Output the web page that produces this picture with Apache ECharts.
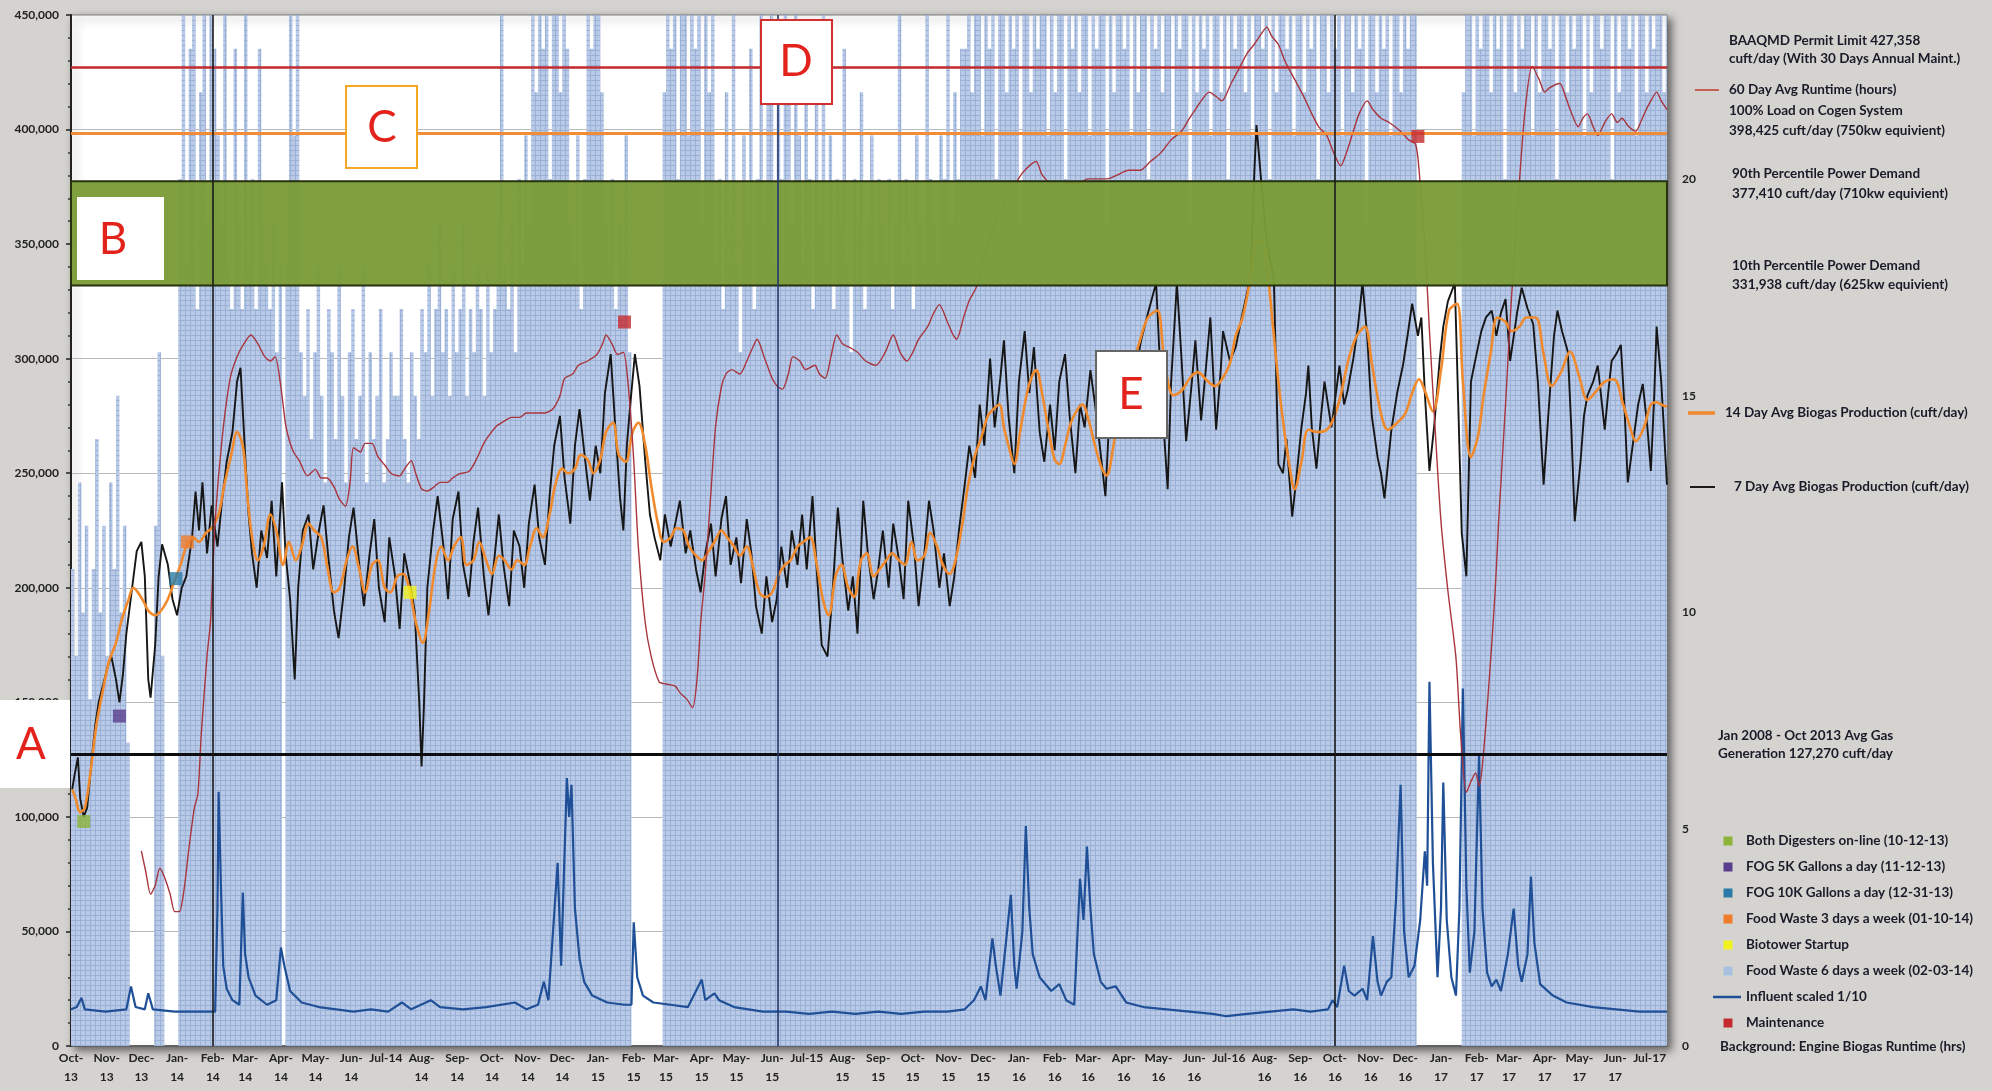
<!DOCTYPE html>
<html>
<head>
<meta charset="utf-8">
<title>Biogas Production</title>
<script src="https://cdn.jsdelivr.net/npm/echarts@6.0.0/dist/echarts.min.js"></script>
<style>
html,body{margin:0;padding:0;background:#d5d3d0;}
#chart{width:1992px;height:1091px;}
</style>
</head>
<body>
<div id="chart"></div>
<script>
// ================= DATA =================
// x tick labels (first day of each month, Oct 2013 .. Jul 2017)
const tickLabels = ['Oct-\n13','Nov-\n13','Dec-\n13','Jan-\n14','Feb-\n14','Mar-\n14','Apr-\n14','May-\n14','Jun-\n14','Jul-14',
 'Aug-\n14','Sep-\n14','Oct-\n14','Nov-\n14','Dec-\n14','Jan-\n15','Feb-\n15','Mar-\n15','Apr-\n15','May-\n15','Jun-\n15','Jul-15',
 'Aug-\n15','Sep-\n15','Oct-\n15','Nov-\n15','Dec-\n15','Jan-\n16','Feb-\n16','Mar-\n16','Apr-\n16','May-\n16','Jun-\n16','Jul-16',
 'Aug-\n16','Sep-\n16','Oct-\n16','Nov-\n16','Dec-\n16','Jan-\n17','Feb-\n17','Mar-\n17','Apr-\n17','May-\n17','Jun-\n17','Jul-17'];

// Engine biogas runtime (hrs), one value per 3-day block starting 2013-10-01
const runtimeHrs = [
 11,9,13,10,12,8,11,14,10,12,9,13,11,15,10,12,7,
 0,0,0,0,0,0,0,
 12,16,9,
 0,0,0,0,
 20,24,18,23,24,17,22,24,19,24,23,
 21,19,24,18,17,23,19,17,24,18,20,17,23,19,
 18,17,19,16,18,
 0,
 18,24,21,24,16,15,17,14,16,18,15,13,17,16,14,18,15,13,16,17,14,15,18,13,16,14,15,17,13,14,16,15,15,17,14,13,16,15,14,
 17,16,18,15,17,19,16,17,15,18,16,17,19,15,17,16,18,17,15,18,16,17,19,24,
 18,17,19,16,20,18,21,19,
 24,22,24,23,24,20,24,24,22,24,23,
 19,18,21,17,20,24,23,24,24,22,19,18,20,17,19,18,21,16,
 0,0,0,0,0,0,0,0,0,
 22,24,23,24,20,24,24,21,24,23,24,19,24,22,24,
 18,20,17,22,19,24,18,16,21,19,23,17,20,24,19,22,24,18,23,20,24,22,19,24,21,18,23,20,17,22,19,24,18,21,17,20,19,23,18,16,20,19,22,17,19,21,18,20,
 19,18,20,17,19,24,18,20,19,17,21,19,18,24,20,19,18,21,20,24,19,22,20,23,
 23,24,22,24,24,21,24,23,24,20,24,24,22,24,23,24,19,24,24,22,24,23,24,24,21,24,22,24,24,20,
 24,23,24,22,24,24,21,24,23,24,24,19,24,22,24,24,23,24,21,24,22,24,24,20,24,23,24,22,24,24,
 21,24,23,24,24,19,24,22,24,23,24,21,24,24,22,24,20,24,23,24,24,22,24,21,24,24,23,24,20,24,
 22,24,24,23,24,21,24,24,22,24,23,24,20,24,24,22,24,23,24,21,24,24,22,24,23,24,19,24,24,22,
 24,23,24,21,24,24,22,24,23,24,24,
 0,0,0,0,0,0,0,0,0,0,0,0,0,
 22,24,24,21,24,23,24,24,22,24,23,24,20,24,24,22,24,23,24,24,21,24,22,24,24,23,24,20,24,24,
 22,24,23,24,24,21,24,22,24,24,23,24,24,20,24,22,24,24,23,24,21,24,24,22,24,23,24,24,22,24
];

// [day since 2013-10-01, thousand cuft/day]
const biogas7 = [[1,112],[3,118],[6,126],[8,108],[11,100],[14,104],[18,125],[21,140],[24,150],[28,158],[32,166],[35,170],[39,160],[42,150],[45,162],[48,180],[53,200],[57,216],[61,220],[64,205],[67,160],[69,152],[73,175],[76,205],[79,219],[84,210],[88,195],[92,188],[96,200],[100,205],[105,222],[108,242],[111,225],[114,246],[118,215],[122,236],[127,218],[131,238],[135,255],[140,268],[144,290],[147,296],[151,258],[154,232],[157,215],[161,200],[165,225],[170,213],[174,238],[178,205],[183,246],[186,215],[190,195],[194,160],[197,200],[201,225],[206,232],[210,208],[215,225],[219,236],[223,214],[228,190],[232,178],[237,200],[241,222],[245,235],[250,210],[254,192],[259,215],[263,230],[267,200],[272,185],[276,222],[281,205],[285,182],[289,215],[294,202],[298,190],[302,150],[304,122],[306,148],[309,200],[314,225],[318,240],[323,218],[327,195],[331,230],[336,242],[340,210],[345,196],[349,220],[353,235],[358,205],[362,188],[367,212],[371,232],[375,210],[380,192],[384,225],[389,218],[393,200],[397,228],[402,245],[406,222],[411,210],[415,240],[419,262],[424,275],[428,248],[433,228],[437,262],[441,278],[446,255],[450,238],[455,262],[459,250],[463,285],[468,302],[472,270],[476,240],[479,225],[482,262],[485,280],[489,302],[493,288],[498,255],[502,232],[506,222],[511,212],[515,232],[520,218],[524,228],[528,238],[533,215],[537,225],[542,208],[546,198],[550,215],[555,228],[559,205],[564,230],[568,240],[572,210],[577,222],[581,202],[586,230],[590,215],[594,192],[599,180],[603,205],[608,185],[612,195],[616,218],[621,200],[625,225],[630,210],[634,232],[638,208],[643,240],[647,205],[651,175],[656,170],[660,195],[665,235],[669,212],[674,190],[678,205],[682,180],[687,238],[691,215],[696,195],[700,208],[704,225],[709,200],[713,228],[718,212],[722,195],[726,238],[731,218],[735,192],[740,215],[744,238],[748,225],[753,200],[757,215],[762,192],[766,205],[770,225],[775,245],[779,262],[784,248],[788,280],[792,262],[797,300],[801,270],[806,292],[809,308],[813,275],[818,250],[822,290],[827,312],[831,285],[835,305],[840,268],[844,255],[849,280],[853,260],[857,290],[862,302],[866,275],[871,250],[875,280],[879,270],[884,295],[888,280],[893,258],[897,240],[901,280],[906,300],[910,272],[915,290],[919,300],[923,295],[928,308],[934,320],[941,333],[945,290],[951,243],[954,290],[959,333],[963,300],[967,264],[972,290],[975,308],[980,273],[984,295],[988,318],[993,269],[997,295],[999,312],[1005,299],[1010,305],[1016,320],[1023,336],[1026,380],[1028,402],[1030,390],[1035,360],[1039,345],[1043,336],[1047,254],[1051,250],[1054,265],[1059,231],[1062,245],[1067,270],[1071,285],[1073,297],[1076,270],[1080,252],[1084,275],[1087,290],[1093,270],[1100,297],[1104,280],[1107,286],[1112,300],[1116,314],[1120,333],[1124,310],[1128,275],[1133,257],[1136,250],[1139,239],[1145,269],[1150,285],[1155,297],[1159,310],[1163,324],[1168,310],[1171,318],[1174,285],[1178,251],[1182,270],[1187,300],[1190,314],[1194,325],[1200,333],[1203,280],[1206,224],[1210,205],[1214,290],[1218,300],[1223,312],[1227,318],[1232,321],[1236,310],[1240,320],[1244,326],[1248,299],[1254,320],[1258,331],[1263,322],[1268,315],[1272,290],[1277,245],[1281,275],[1286,310],[1289,321],[1293,312],[1298,303],[1301,270],[1304,229],[1309,255],[1312,275],[1315,284],[1320,290],[1324,297],[1330,269],[1333,285],[1336,299],[1340,302],[1344,306],[1347,280],[1350,246],[1355,265],[1359,280],[1363,289],[1367,270],[1370,251],[1373,285],[1375,314],[1379,290],[1384,245]];

const biogas14 = [[1,112],[4,108],[8,102],[12,104],[17,120],[22,140],[28,156],[33,168],[39,176],[44,186],[50,195],[54,200],[58,198],[63,194],[67,190],[73,188],[78,190],[84,195],[89,202],[95,210],[100,218],[106,222],[111,220],[117,224],[122,226],[128,232],[133,245],[139,258],[144,268],[149,262],[153,240],[157,222],[162,212],[167,218],[173,232],[178,225],[184,210],[189,220],[195,212],[200,218],[206,228],[211,225],[217,222],[222,210],[228,198],[233,200],[239,212],[244,218],[250,208],[255,198],[261,210],[266,212],[272,200],[277,198],[283,205],[288,206],[294,198],[299,185],[305,176],[310,188],[316,210],[321,218],[327,212],[332,218],[338,222],[343,210],[349,212],[354,220],[360,212],[365,206],[371,214],[376,212],[382,208],[387,212],[393,210],[398,218],[404,226],[409,222],[415,232],[420,245],[426,252],[431,250],[437,252],[442,258],[448,256],[453,250],[459,256],[464,268],[470,272],[475,258],[481,255],[487,268],[492,272],[498,262],[503,245],[509,228],[514,220],[520,222],[525,226],[531,225],[536,218],[542,214],[547,212],[553,216],[558,220],[564,225],[569,222],[575,218],[580,214],[586,218],[591,210],[597,198],[602,196],[608,198],[613,205],[619,210],[624,212],[630,218],[635,220],[641,222],[646,212],[652,195],[657,188],[663,205],[668,210],[674,200],[679,196],[685,212],[690,215],[696,205],[701,208],[707,212],[712,215],[718,212],[723,210],[729,220],[734,212],[740,214],[745,224],[751,218],[756,210],[762,206],[767,212],[773,228],[778,245],[784,258],[789,265],[795,275],[800,278],[805,280],[809,270],[813,262],[818,254],[823,268],[829,285],[833,292],[837,295],[842,285],[848,268],[853,256],[857,254],[862,262],[867,272],[873,278],[877,280],[883,272],[888,262],[894,252],[898,249],[904,262],[909,278],[915,288],[920,296],[927,308],[934,318],[942,321],[948,300],[956,284],[963,286],[971,292],[977,294],[986,290],[992,288],[998,291],[1005,298],[1010,310],[1016,318],[1023,336],[1027,350],[1032,352],[1037,340],[1041,321],[1047,290],[1052,269],[1057,252],[1061,243],[1067,255],[1073,269],[1081,268],[1089,269],[1095,274],[1101,284],[1108,300],[1115,310],[1122,314],[1128,298],[1136,276],[1142,269],[1150,272],[1157,276],[1163,285],[1169,291],[1174,286],[1181,277],[1188,295],[1195,321],[1202,324],[1207,290],[1214,257],[1220,266],[1225,284],[1231,302],[1237,318],[1244,316],[1249,312],[1256,314],[1262,318],[1270,318],[1277,302],[1284,288],[1292,294],[1300,303],[1308,292],[1315,282],[1323,286],[1330,290],[1338,291],[1346,280],[1352,270],[1357,264],[1364,270],[1370,280],[1375,281],[1379,280],[1384,279]];

// 60 day average runtime [day, hours]
const runtime60 = [[61,4.5],[65,4.0],[69,3.5],[73,3.7],[77,4.1],[81,3.9],[86,3.5],[90,3.1],[94,3.1],[98,3.6],[102,4.5],[107,5.5],[110,5.8],[113,7.2],[118,9.0],[121,9.8],[125,12.1],[131,14.0],[138,15.4],[144,15.9],[150,16.2],[156,16.4],[162,16.2],[168,15.9],[173,15.8],[177,15.9],[182,15.2],[186,14.35],[189,14.0],[193,13.7],[198,13.5],[205,13.15],[212,13.3],[217,13.1],[222,13.1],[228,12.9],[233,12.6],[238,12.45],[242,13.0],[245,13.8],[251,13.7],[255,13.9],[261,13.9],[266,13.6],[272,13.4],[278,13.2],[285,13.15],[289,13.3],[295,13.5],[299,13.2],[304,12.85],[309,12.8],[315,12.9],[320,13.0],[326,13.0],[331,13.1],[337,13.2],[345,13.25],[351,13.5],[358,13.9],[363,14.1],[369,14.3],[375,14.4],[382,14.5],[389,14.5],[395,14.6],[403,14.6],[411,14.6],[418,14.7],[424,15.0],[428,15.4],[435,15.5],[440,15.7],[448,15.8],[456,15.95],[461,16.2],[464,16.4],[469,16.2],[474,15.95],[479,16.0],[483,15.3],[488,13.5],[492,11.5],[498,9.75],[503,9.0],[510,8.4],[516,8.35],[524,8.3],[528,8.15],[534,8.0],[539,7.8],[543,8.5],[546,9.75],[550,10.9],[555,12.8],[559,14.3],[564,15.2],[568,15.5],[573,15.6],[580,15.5],[586,15.8],[591,16.1],[595,16.3],[601,15.9],[608,15.4],[613,15.2],[617,15.15],[622,15.5],[626,15.9],[632,15.8],[637,15.6],[645,15.7],[649,15.5],[654,15.4],[659,15.9],[664,16.4],[669,16.2],[676,16.1],[682,16.0],[689,15.8],[698,15.7],[706,16.0],[713,16.4],[719,16.0],[725,15.8],[730,16.0],[735,16.3],[743,16.6],[748,16.9],[753,17.1],[760,16.7],[765,16.4],[768,16.3],[774,16.8],[779,17.2],[785,17.5],[793,18.3],[800,18.9],[809,19.4],[817,19.8],[824,20.1],[831,20.3],[837,20.4],[842,20.1],[849,19.9],[856,19.8],[864,19.9],[873,19.9],[882,20.0],[890,20.0],[899,20.0],[908,20.1],[917,20.2],[927,20.2],[936,20.4],[945,20.6],[954,20.9],[963,21.1],[970,21.4],[975,21.6],[980,21.8],[987,22.0],[993,21.9],[998,21.8],[1006,22.2],[1014,22.6],[1020,22.9],[1026,23.1],[1031,23.3],[1037,23.5],[1041,23.3],[1047,23.1],[1053,22.7],[1061,22.3],[1069,21.9],[1076,21.5],[1082,21.2],[1089,21.0],[1095,20.6],[1101,20.3],[1106,20.6],[1112,21.1],[1117,21.5],[1124,21.8],[1129,21.6],[1136,21.4],[1143,21.3],[1153,21.1],[1160,20.9],[1166,20.8],[1169,20.2],[1174,18.5],[1178,16.5],[1183,14.2],[1188,12.1],[1194,10.5],[1201,8.95],[1205,7.2],[1210,5.85],[1214,6.1],[1218,6.3],[1221,6.0],[1224,6.5],[1230,8.5],[1235,10.5],[1238,12.1],[1244,14.8],[1249,17.2],[1257,20.3],[1261,21.6],[1267,22.6],[1273,22.3],[1278,22.0],[1282,22.1],[1291,22.2],[1296,21.9],[1300,21.6],[1307,21.2],[1311,21.4],[1315,21.5],[1320,21.2],[1324,21.0],[1330,21.3],[1336,21.5],[1341,21.3],[1345,21.4],[1351,21.2],[1357,21.1],[1361,21.3],[1366,21.6],[1370,21.8],[1375,22.0],[1379,21.8],[1384,21.6]];

// Influent scaled 1/10 [day, thousand]
const influent = [[0,16],[5,17],[9,21],[12,16],[30,15],[48,16],[52,26],[56,17],[64,16],[67,23],[71,16],[90,15],[110,15],[125,15],[127,60],[128,111],[130,70],[132,35],[135,25],[140,20],[146,18],[149,67],[151,40],[154,30],[160,22],[170,18],[178,20],[182,43],[185,35],[190,24],[200,19],[215,17],[230,16],[245,15],[260,16],[275,15],[287,19],[295,16],[312,20],[320,17],[340,16],[360,17],[385,19],[395,16],[405,18],[410,28],[414,20],[422,80],[425,35],[430,117],[432,100],[434,114],[437,60],[441,38],[445,28],[452,22],[465,19],[480,18],[486,18],[488,54],[491,30],[496,22],[505,19],[520,18],[535,17],[547,29],[550,20],[558,23],[562,20],[575,17],[600,15],[620,15],[640,14],[660,15],[680,14],[700,15],[720,14],[740,15],[760,15],[775,16],[783,20],[789,26],[793,20],[799,47],[802,35],[806,22],[815,66],[818,35],[820,25],[825,50],[828,96],[831,60],[834,40],[840,30],[850,24],[857,27],[863,20],[870,18],[875,73],[878,55],[881,87],[884,60],[887,40],[893,28],[898,25],[906,26],[915,19],[930,17],[950,16],[970,15],[990,14],[1002,13],[1020,14],[1040,15],[1060,16],[1075,15],[1090,16],[1094,20],[1098,17],[1104,35],[1108,24],[1113,22],[1120,25],[1124,20],[1129,48],[1133,28],[1136,22],[1141,28],[1145,30],[1149,64],[1153,114],[1156,50],[1160,30],[1165,35],[1170,55],[1174,85],[1176,70],[1178,159],[1181,80],[1185,30],[1188,60],[1190,115],[1193,55],[1197,30],[1201,22],[1204,60],[1207,156],[1210,70],[1213,32],[1217,50],[1221,127],[1224,60],[1228,32],[1232,26],[1236,29],[1240,24],[1246,40],[1251,60],[1255,35],[1258,28],[1263,40],[1266,74],[1269,45],[1274,27],[1285,22],[1297,19],[1320,17],[1340,16],[1360,15],[1384,15]];

// Events
const eventNames = ['Both Digesters on-line (10-12-13)','FOG 5K Gallons a day (11-12-13)','FOG 10K Gallons a day (12-31-13)','Food Waste 3 days a week (01-10-14)','Biotower Startup','Maintenance','Maintenance'];
const eventDays = [11, 42, 91, 101, 294, 480, 1168];
const eventValues = [98000, 144000, 204000, 220000, 198000, 316000, 397000];

// Reference levels (cuft/day)
const permitLimit = 427358, fullLoad = 398425, p90 = 377410, p10 = 331938, histAvg = 127270;
const markerLineDays = [123, 613, 1096];

// ================= CHART =================
const DAY = 86400000;
const T0 = Date.UTC(2013, 9, 1);
const X_MAX = 1384;
// month-start positions in days since 2013-10-01
const tickDays = tickLabels.map((s, i) => Math.round((Date.UTC(2013, 9 + i, 1) - T0) / DAY));
const labelOf = {};
tickDays.forEach((d, i) => labelOf[d] = tickLabels[i]);

const FONT = 'Lato, "Open Sans", "DejaVu Sans", sans-serif';
const eventColors = ['#8db33a','#5b3f8f','#2b7aa8','#f07d2d','#f2f21e','#c42b2f','#c42b2f'];

// grid-textured light-blue fill for runtime background
const pat = document.createElement('canvas');
pat.width = 5; pat.height = 5;
const pg = pat.getContext('2d');
pg.fillStyle = '#b8cae7'; pg.fillRect(0, 0, 5, 5);
pg.fillStyle = '#9bb0d5'; pg.fillRect(0, 0, 5, 1); pg.fillRect(0, 0, 1, 5);

const runtimeData = runtimeHrs.map((v, i) => [i * 3, v]);
runtimeData.push([runtimeHrs.length * 3, runtimeHrs[runtimeHrs.length - 1]]);

const K = 1000;
const chart = echarts.init(document.getElementById('chart'), null, {renderer: 'canvas'});

function T(x, y, text, o) {
  o = o || {};
  return {type: 'text', x: x, y: y, z: 100, style: {text: text, fill: o.fill || '#1a1a28',
    font: (o.weight || 'bold') + ' ' + (o.size || 13.5) + 'px ' + FONT,
    textAlign: o.align || 'left', textVerticalAlign: 'middle'}};
}
function box(x, y, w, h, letter, stroke, lx, ly) {
  const st = {fill: '#ffffff'};
  if (stroke) { st.stroke = stroke; st.lineWidth = 2; }
  return [
    {type: 'rect', z: 100, shape: {x: x, y: y, width: w, height: h}, style: st},
    {type: 'text', z: 101, x: lx, y: ly, style: {text: letter, fill: '#e3231b',
      font: 'normal 44px ' + FONT, textAlign: 'center', textVerticalAlign: 'middle'}}
  ];
}
function sq(x, y, color) {
  return {type: 'rect', z: 100, shape: {x: x - 4.5, y: y - 4.5, width: 9, height: 9}, style: {fill: color}};
}
function ln(x1, x2, y, color, w) {
  return {type: 'line', z: 100, shape: {x1: x1, y1: y, x2: x2, y2: y}, style: {stroke: color, lineWidth: w}};
}

const graphics = [].concat(
  box(0, 700, 70, 88, 'A', null, 31, 745),
  box(77, 197, 87, 83, 'B', null, 113, 240),
  box(346, 86, 71, 82, 'C', '#f5a623', 382, 128),
  box(761, 20, 71, 84, 'D', '#d32f2f', 796, 62),
  box(1096, 351, 71, 87, 'E', '#666666', 1131, 395),
  [
    T(1729, 41, 'BAAQMD Permit Limit 427,358'),
    T(1729, 59, 'cuft/day (With 30 Days Annual Maint.)'),
    ln(1695, 1719, 90, '#c0392b', 1.5),
    T(1729, 90, '60 Day Avg Runtime (hours)'),
    T(1729, 111, '100% Load on Cogen System'),
    T(1729, 131, '398,425 cuft/day (750kw equivient)'),
    T(1732, 174, '90th Percentile Power Demand'),
    T(1732, 194, '377,410 cuft/day (710kw equivient)'),
    T(1732, 266, '10th Percentile Power Demand'),
    T(1732, 285, '331,938 cuft/day (625kw equivient)'),
    ln(1688, 1715, 413, '#f08a2c', 3.5),
    T(1725, 413, '14 Day Avg Biogas Production (cuft/day)'),
    ln(1690, 1715, 487, '#1a1a1a', 2),
    T(1734, 487, '7 Day Avg Biogas Production (cuft/day)'),
    T(1718, 736, 'Jan 2008 - Oct 2013 Avg Gas'),
    T(1718, 754, 'Generation 127,270 cuft/day'),
    sq(1728, 841, '#8db33a'), T(1746, 841, 'Both Digesters on-line (10-12-13)'),
    sq(1728, 867, '#5b3f8f'), T(1746, 867, 'FOG 5K Gallons a day (11-12-13)'),
    sq(1728, 893, '#2b7aa8'), T(1746, 893, 'FOG 10K Gallons a day (12-31-13)'),
    sq(1728, 919, '#f07d2d'), T(1746, 919, 'Food Waste 3 days a week (01-10-14)'),
    sq(1728, 945, '#f2f21e'), T(1746, 945, 'Biotower Startup'),
    sq(1728, 971, '#a9bfe0'), T(1746, 971, 'Food Waste 6 days a week (02-03-14)'),
    ln(1713, 1741, 997, '#1f4f96', 2.5), T(1746, 997, 'Influent scaled 1/10'),
    sq(1728, 1023, '#c42b2f'), T(1746, 1023, 'Maintenance'),
    T(1720, 1047, 'Background: Engine Biogas Runtime (hrs)')
  ]
);

const option = {
  animation: false,
  backgroundColor: '#d5d3d0',
  textStyle: {fontFamily: FONT},
  grid: {left: 71, top: 15, width: 1596, height: 1031, show: true, backgroundColor: '#ffffff',
    borderColor: '#7a7a7a', borderWidth: 1, shadowColor: 'rgba(0,0,0,0.55)', shadowBlur: 8, shadowOffsetX: 4, shadowOffsetY: 4},
  xAxis: {
    type: 'value', min: 0, max: X_MAX,
    axisLine: {show: true, onZero: false, lineStyle: {color: '#444', width: 1.5}},
    axisTick: {show: false},
    splitLine: {show: false},
    axisLabel: {customValues: tickDays, formatter: v => (labelOf[v] !== undefined ? labelOf[v] : ''), color: '#222',
      fontWeight: 'bold', fontSize: 12, lineHeight: 19, margin: 3, fontFamily: FONT, hideOverlap: false}
  },
  yAxis: [
    {type: 'value', min: 0, max: 450000, interval: 50000, position: 'left',
      axisLine: {show: true, lineStyle: {color: '#222', width: 2}},
      axisTick: {show: true, length: 5, inside: false, lineStyle: {color: '#222', width: 1.5}},
      minorTick: {show: true, splitNumber: 5, length: 3, lineStyle: {color: '#333', width: 1.5}},
      splitLine: {show: true, lineStyle: {color: '#b9b9b9', width: 1}},
      axisLabel: {formatter: v => v.toLocaleString('en-US'), color: '#222', fontWeight: 'bold', fontSize: 12, margin: 12, fontFamily: FONT}},
    {type: 'value', min: 0, max: 23.78, interval: 5, position: 'right',
      axisLine: {show: false}, axisTick: {show: false}, splitLine: {show: false},
      axisLabel: {formatter: v => (v % 5 === 0 ? String(v) : ''), color: '#222', fontWeight: 'bold', fontSize: 12, margin: 15, fontFamily: FONT}}
  ],
  series: [
    {name: 'Background: Engine Biogas Runtime (hrs)', type: 'line', yAxisIndex: 1, step: 'end', symbol: 'none',
      data: runtimeData, lineStyle: {width: 0, opacity: 0}, areaStyle: {color: {image: pat, repeat: 'repeat'}, opacity: 1}, z: 1, silent: true},
    {name: 'Influent scaled 1/10', type: 'line', yAxisIndex: 0, symbol: 'none',
      data: influent.map(p => [p[0], p[1] * K]), lineStyle: {color: '#1f4f96', width: 2.2}, z: 3},
    {name: '7 Day Avg Biogas Production (cuft/day)', type: 'line', yAxisIndex: 0, symbol: 'none',
      data: biogas7.map(p => [p[0], p[1] * K]), lineStyle: {color: '#161616', width: 1.9}, z: 3},
    {name: '14 Day Avg Biogas Production (cuft/day)', type: 'line', yAxisIndex: 0, symbol: 'none', smooth: 0.35,
      data: biogas14.map(p => [p[0], p[1] * K]), lineStyle: {color: '#f08a2c', width: 2.6}, z: 4},
    {name: '60 Day Avg Runtime (hours)', type: 'line', yAxisIndex: 1, symbol: 'none', smooth: 0.25,
      data: runtime60, lineStyle: {color: '#a8353d', width: 1.4}, z: 5},
    {name: 'Power Demand Band', type: 'custom', yAxisIndex: 0, z: 6, silent: true,
      data: [[0, p10, X_MAX, p90]],
      renderItem: function (params, api) {
        const a = api.coord([api.value(0), api.value(3)]);
        const b = api.coord([api.value(2), api.value(1)]);
        return {type: 'rect', shape: {x: a[0], y: a[1], width: b[0] - a[0], height: b[1] - a[1]},
          style: {fill: 'rgba(123,156,56,0.96)', stroke: '#27310f', lineWidth: 2}};
      }},
    {name: 'Reference levels', type: 'line', yAxisIndex: 0, data: [], z: 7, silent: true,
      markLine: {silent: true, symbol: 'none', label: {show: false}, z: 7,
        data: [
          {yAxis: permitLimit, lineStyle: {color: '#c22a2e', width: 2.6, type: 'solid'}},
          {yAxis: fullLoad, lineStyle: {color: '#f28c36', width: 3, type: 'solid'}},
          {yAxis: histAvg, lineStyle: {color: '#0d0d0d', width: 2.8, type: 'solid'}},
          {xAxis: markerLineDays[0], lineStyle: {color: '#1a1a1a', width: 1.6, type: 'solid'}},
          {xAxis: markerLineDays[1], lineStyle: {color: '#22386e', width: 1.6, type: 'solid'}},
          {xAxis: markerLineDays[2], lineStyle: {color: '#1a1a1a', width: 1.6, type: 'solid'}}
        ]}},
    {name: 'Events', type: 'scatter', yAxisIndex: 0, symbol: 'rect', symbolSize: 13, z: 10,
      data: eventDays.map((d, i) => ({name: eventNames[i], value: [d, eventValues[i]], itemStyle: {color: eventColors[i]}}))}
  ],
  graphic: graphics
};
chart.setOption(option);
</script>
</body>
</html>
